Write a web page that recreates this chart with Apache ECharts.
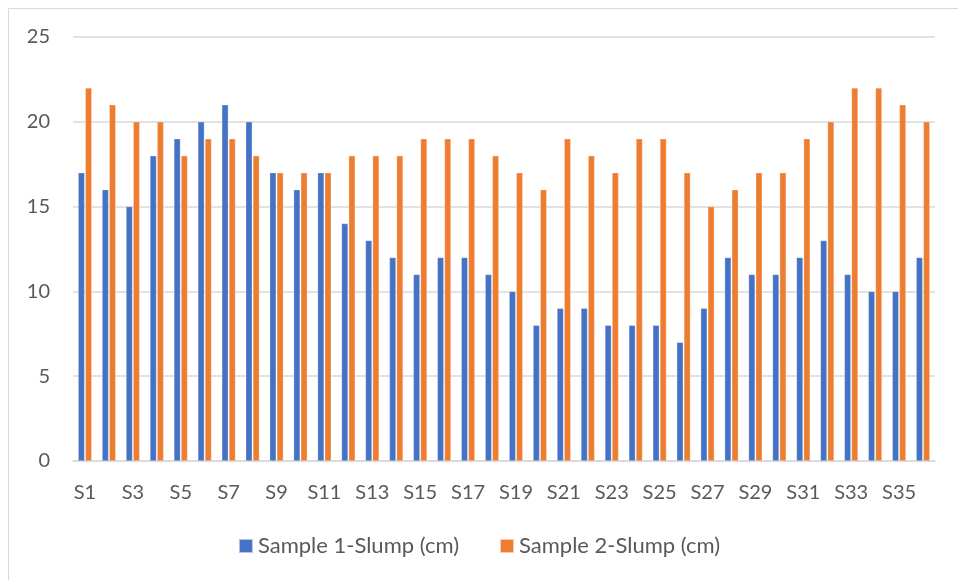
<!DOCTYPE html>
<html>
<head>
<meta charset="utf-8">
<script src="https://cdn.jsdelivr.net/npm/echarts@6/dist/echarts.min.js"></script>
<style>html,body{margin:0;padding:0;background:#fff;}#c{width:958px;height:580px;}</style>
</head>
<body>
<div id="c"></div>
<script>
const categories = ['S1','S2','S3','S4','S5','S6','S7','S8','S9','S10','S11','S12','S13','S14','S15','S16','S17','S18','S19','S20','S21','S22','S23','S24','S25','S26','S27','S28','S29','S30','S31','S32','S33','S34','S35','S36'];
const sample1 = [17,16,15,18,19,20,21,20,17,16,17,14,13,12,11,12,12,11,10,8,9,9,8,8,8,7,9,12,11,11,12,13,11,10,10,12];
const sample2 = [22,21,20,20,18,19,19,18,17,17,17,18,18,18,19,19,19,18,17,16,19,18,17,19,19,17,15,16,17,17,19,20,22,22,21,20];
const seriesNames = ['Sample 1-Slump (cm)','Sample 2-Slump (cm)'];
const font = 'Lato, "Open Sans", sans-serif';
const chart = echarts.init(document.getElementById('c'));
chart.setOption({
  animation: false,
  backgroundColor: '#ffffff',
  graphic: [{type:'rect', shape:{x:8.5,y:8.5,width:970,height:620}, style:{fill:'none', stroke:'#d9d9d9', lineWidth:1}, silent:true}],
  grid: {left:73, right:23, top:37, bottom:119},
  legend: {
    bottom: 18, left: 'center', itemWidth: 14, itemHeight: 14, itemGap: 40,
    icon: 'rect',
    textStyle: {fontFamily: font, fontSize: 22, color: '#595959'},
    data: seriesNames
  },
  xAxis: {
    type: 'category', data: categories,
    axisLine: {lineStyle: {color: '#d9d9d9', width: 1.5}},
    axisTick: {show: false},
    axisLabel: {interval: 1, fontFamily: font, fontSize: 20, color: '#595959', margin: 22}
  },
  yAxis: {
    type: 'value', min: 0, max: 25, interval: 5,
    axisLine: {show: false}, axisTick: {show: false},
    splitLine: {lineStyle: {color: '#d9d9d9', width: 1.5}},
    axisLabel: {fontFamily: font, fontSize: 20, color: '#595959', margin: 23}
  },
  series: [
    {name: seriesNames[0], type: 'bar', data: sample1, barWidth: 6.5, barGap: '10%',
     itemStyle: {color: '#4472c4', borderColor: 'rgba(255,255,255,0.6)', borderWidth: 0.5}},
    {name: seriesNames[1], type: 'bar', data: sample2, barWidth: 6.5, barGap: '10%',
     itemStyle: {color: '#ed7d31', borderColor: 'rgba(255,255,255,0.6)', borderWidth: 0.5}}
  ]
});
</script>
</body>
</html>
